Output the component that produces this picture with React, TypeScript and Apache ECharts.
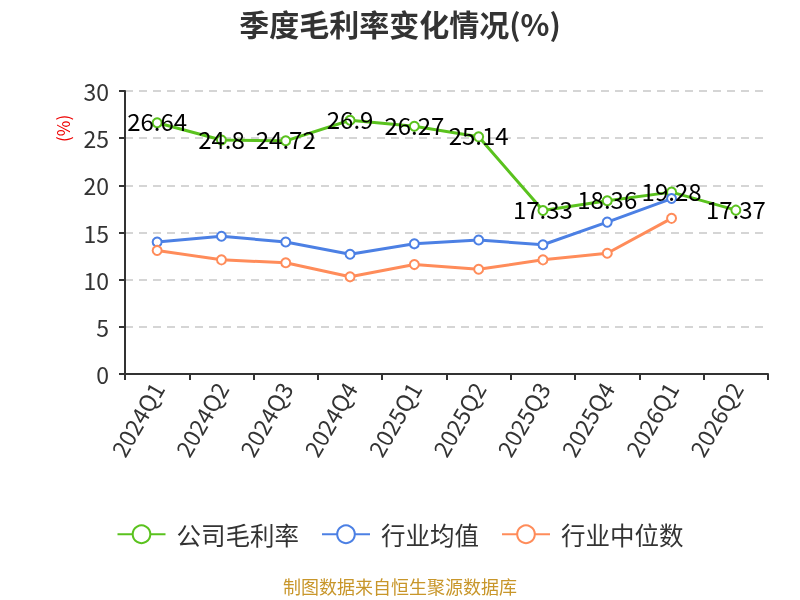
import React, { useEffect, useRef } from "react";
import * as echarts from "echarts";

const categories = ["2024Q1", "2024Q2", "2024Q3", "2024Q4", "2025Q1", "2025Q2", "2025Q3", "2025Q4", "2026Q1", "2026Q2"];
const companyMargin = [26.64, 24.8, 24.72, 26.9, 26.27, 25.14, 17.33, 18.36, 19.28, 17.37];
const industryAvg = [14.0, 14.6, 14.0, 12.7, 13.8, 14.2, 13.7, 16.1, 18.6, null];
const industryMedian = [13.1, 12.1, 11.8, 10.3, 11.6, 11.1, 12.1, 12.8, 16.5, null];
const yTicks = { min: 0, max: 30, interval: 5 };

export default function App() {
  const ref = useRef<HTMLDivElement>(null);
  useEffect(() => {
    if (!ref.current) return;
    const chart = echarts.init(ref.current, null, { renderer: "svg" });
    const font = "'Noto Sans CJK SC', 'Noto Sans', sans-serif";
    chart.setOption({
      animation: false,
      textStyle: { fontFamily: font },
      title: {
        text: "季度毛利率变化情况(%)",
        left: "center",
        top: 3,
        textStyle: { fontSize: 30, fontWeight: "bold", color: "#333", fontFamily: font },
      },
      legend: {
        top: 517,
        left: "center",
        itemWidth: 48,
        itemHeight: 22,
        itemGap: 22,
        textStyle: { fontSize: 24.5, color: "#333", fontFamily: font, padding: [0, 0, 0, 6] },
        data: ["公司毛利率", "行业均值", "行业中位数"],
      },
      grid: { left: 125, right: 32, top: 91, bottom: 226 },
      xAxis: {
        type: "category",
        data: categories,
        boundaryGap: true,
        axisLine: { lineStyle: { color: "#333", width: 2 } },
        axisTick: { show: true, length: 6, lineStyle: { color: "#333", width: 2 } },
        axisLabel: { rotate: 60, fontSize: 23, color: "#333", margin: 10, interval: 0 },
      },
      yAxis: {
        type: "value",
        min: yTicks.min,
        max: yTicks.max,
        interval: yTicks.interval,
        axisLine: { show: true, lineStyle: { color: "#333", width: 2 } },
        axisTick: { show: true, length: 6, lineStyle: { color: "#333", width: 2 } },
        axisLabel: { fontSize: 23, color: "#333", margin: 16 },
        splitLine: { lineStyle: { type: [8, 6], color: "#c8c8c8", width: 1.5 } },
      },
      graphic: [
        {
          type: "text",
          x: 54,
          y: 142,
          rotation: Math.PI / 2,
          style: { text: "(%)", fill: "#e00", fontSize: 17, fontFamily: font },
        },
        {
          type: "text",
          left: "center",
          top: 577,
          style: { text: "制图数据来自恒生聚源数据库", fill: "#c8962a", fontSize: 18, fontFamily: font },
        },
      ],
      series: [
        {
          name: "公司毛利率",
          type: "line",
          data: companyMargin,
          symbol: "emptyCircle",
          symbolSize: 9,
          lineStyle: { width: 3, color: "#5ac21e" },
          itemStyle: { color: "#5ac21e", borderWidth: 2 },
          label: { show: true, position: "inside", fontSize: 24, color: "#000", fontFamily: font, offset: [0, -2] },
          z: 3,
        },
        {
          name: "行业均值",
          type: "line",
          data: industryAvg,
          symbol: "emptyCircle",
          symbolSize: 9,
          lineStyle: { width: 3, color: "#4c80e4" },
          itemStyle: { color: "#4c80e4", borderWidth: 2 },
        },
        {
          name: "行业中位数",
          type: "line",
          data: industryMedian,
          symbol: "emptyCircle",
          symbolSize: 9,
          lineStyle: { width: 3, color: "#ff8c5a" },
          itemStyle: { color: "#ff8c5a", borderWidth: 2 },
        },
      ],
    });
    return () => chart.dispose();
  }, []);
  return <div ref={ref} style={{ position: "fixed", left: 0, top: 0, width: 800, height: 600 }} />;
}
